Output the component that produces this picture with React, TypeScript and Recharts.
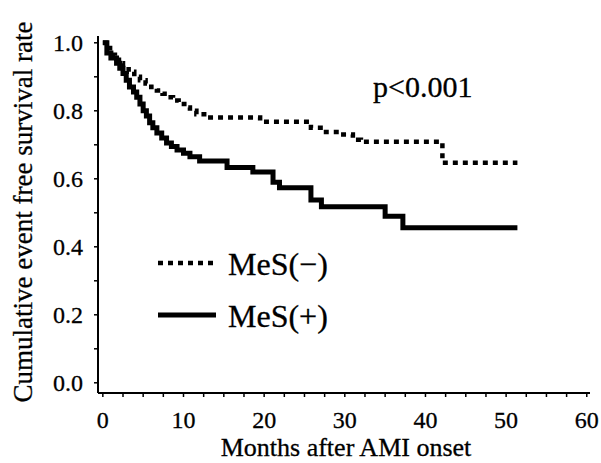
import { LineChart, Line, XAxis, YAxis } from 'recharts';

// Kaplan-Meier readings (months, survival), MeS(-) dotted, MeS(+) solid
const negMonths = [0, 0.4, 0.9, 1.5, 2.0, 2.5, 3.2, 3.9, 4.6, 5.3, 6.0, 6.7, 7.4, 8.0, 8.7, 9.4, 10.1, 10.8, 11.6, 12.9, 19.5, 25.8, 27.3, 29.4, 31.0, 32.0, 42.1, 51.4];
const negSurvival = [1.0, 0.985, 0.965, 0.95, 0.94, 0.93, 0.915, 0.9, 0.89, 0.88, 0.87, 0.86, 0.85, 0.84, 0.83, 0.82, 0.81, 0.8, 0.79, 0.78, 0.768, 0.75, 0.738, 0.73, 0.715, 0.709, 0.647, 0.647];

const posMonths = [0, 0.5, 1.0, 1.7, 2.1, 2.5, 2.9, 3.3, 3.8, 4.2, 4.6, 5.0, 5.4, 5.8, 6.2, 6.7, 7.3, 7.9, 8.5, 9.2, 10.0, 10.8, 12.0, 15.4, 18.6, 21.1, 21.9, 25.8, 27.1, 35.0, 37.2, 51.4];
const posSurvival = [1.0, 0.97, 0.955, 0.94, 0.925, 0.91, 0.89, 0.87, 0.855, 0.84, 0.82, 0.8, 0.785, 0.765, 0.75, 0.735, 0.72, 0.705, 0.695, 0.685, 0.675, 0.665, 0.652, 0.633, 0.62, 0.59, 0.574, 0.538, 0.518, 0.49, 0.456, 0.456];

const xTicks = [0, 2.5, 5, 7.5, 10, 12.5, 15, 17.5, 20, 22.5, 25, 27.5, 30, 32.5, 35, 37.5, 40, 42.5, 45, 47.5, 50, 52.5, 55, 57.5, 60];
const yTicks = [0, 0.1, 0.2, 0.3, 0.4, 0.5, 0.6, 0.7, 0.8, 0.9, 1.0];

const negData = negMonths.map((m, i) => ({ month: m, surv: negSurvival[i] }));
const posData = posMonths.map((m, i) => ({ month: m, surv: posSurvival[i] }));

const FONT = '"Liberation Serif", "Times New Roman", serif';
const txt = { fontFamily: FONT, fill: '#000', stroke: '#000', strokeWidth: 0.3 };

function XTick(props: any) {
  const { x, y, payload } = props;
  const major = payload.value % 10 === 0;
  return (
    <g>
      <line x1={x} x2={x} y1={y} y2={y + 4} stroke="#000" strokeWidth={1.5} />
      {major && (
        <text x={x} y={y + 35} textAnchor="middle" fontSize={24} {...txt}>
          {payload.value}
        </text>
      )}
    </g>
  );
}

function YTick(props: any) {
  const { x, y, payload } = props;
  const major = Math.round(payload.value * 10) % 2 === 0;
  return (
    <g>
      <line x1={x - 4} x2={x} y1={y} y2={y} stroke="#000" strokeWidth={1.5} />
      {major && (
        <text x={x - 15} y={y + 8} textAnchor="end" fontSize={24} {...txt}>
          {payload.value.toFixed(1)}
        </text>
      )}
    </g>
  );
}

export default function App() {
  return (
    <div style={{ position: 'absolute', left: 0, top: 0, width: 601, height: 463, background: '#fff' }}>
      <LineChart width={601} height={463} margin={{ top: 36, right: 11, bottom: 0, left: 0 }}>
        <XAxis
          dataKey="month"
          type="number"
          domain={[-0.6, 60.4]}
          ticks={xTicks}
          interval={0}
          height={70}
          tickSize={0}
          tickMargin={0}
          tickLine={false}
          tick={<XTick />}
          axisLine={{ stroke: '#000', strokeWidth: 2 }}
          allowDuplicatedCategory={false}
        />
        <YAxis
          type="number"
          domain={[-0.03, 1.02]}
          ticks={yTicks}
          interval={0}
          width={98}
          tickSize={0}
          tickMargin={0}
          tickLine={false}
          tick={<YTick />}
          axisLine={{ stroke: '#000', strokeWidth: 2 }}
        />
        <Line
          data={negData}
          dataKey="surv"
          name="MeS(−)"
          type="stepAfter"
          stroke="#000"
          strokeWidth={4.5}
          strokeDasharray="5 5"
          dot={false}
          activeDot={false}
          isAnimationActive={false}
        />
        <Line
          data={posData}
          dataKey="surv"
          name="MeS(+)"
          type="stepAfter"
          stroke="#000"
          strokeWidth={5}
          dot={false}
          activeDot={false}
          isAnimationActive={false}
        />
        <g>
          <line x1={158} x2={214} y1={263} y2={263} stroke="#000" strokeWidth={4.5} strokeDasharray="5 5" />
          <text x={228} y={275} fontSize={32} {...txt}>MeS(−)</text>
          <line x1={158} x2={216} y1={315} y2={315} stroke="#000" strokeWidth={5} />
          <text x={228} y={327} fontSize={32} {...txt}>MeS(+)</text>
        </g>
        <text x={373} y={97} fontSize={30} {...txt}>p&lt;0.001</text>
        <text x={346} y={456} textAnchor="middle" fontSize={26} {...txt}>Months after AMI onset</text>
        <text x={32} y={212} transform="rotate(-90 32 212)" textAnchor="middle" fontSize={27} {...txt}>
          Cumulative event free survival rate
        </text>
      </LineChart>
    </div>
  );
}
